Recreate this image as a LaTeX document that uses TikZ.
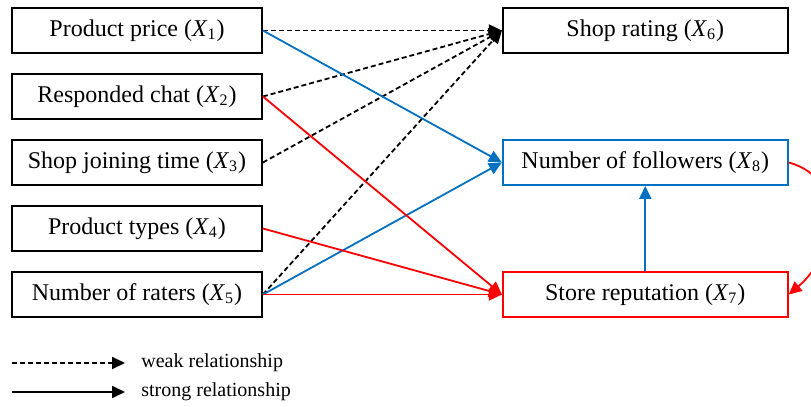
\documentclass[tikz,border=0pt]{standalone}
\usepackage{fontspec}
\setmainfont{Liberation Serif}
\usetikzlibrary{arrows.meta,
                chains,
                positioning}
\definecolor{linkblue}{RGB}{0,112,192}
\definecolor{linkred}{RGB}{255,0,0}
\newcommand{\xv}[1]{(\textit{X}\textsubscript{#1})}

\begin{document}
\begin{tikzpicture}[
            x=0.5pt, y=-0.5pt,
            node distance = 9.6pt and 119.5pt,
            start chain = A going below,
            base/.style = {draw, line width=0.9pt, minimum height=22.5pt,
                    align=center, on chain=A,
                    font=\fontsize{12}{14}\selectfont},
            factor/.style = {base, minimum width=125pt},
            target/.style = {base, minimum width=142.5pt},
            link/.style = {line width=0.9pt,
                    -{Triangle[length=6.5pt, width=6pt]}},
            weak/.style = {link, dash pattern=on 2.5pt off 1.5pt},
            legtext/.style = {anchor=west, inner sep=0pt,
                    font=\fontsize{10}{12}\selectfont}]

        \useasboundingbox (0,0) rectangle (811,407);

        \node [factor] at (137,30.5) {Product price \xv{1}}; % A-1
        \node [factor]          {Responded chat \xv{2}}; % A-2
        \node [factor]          {Shop joining time \xv{3}}; % A-3
        \node [factor]          {Product types \xv{4}}; % A-4
        \node [factor]          {Number of raters \xv{5}}; % A-5

        % Out
        \node [target,
            right =of A-1]      {Shop rating \xv{6}}; % A-6
        \node [target, draw=linkred,
            right =of A-5]      {Store reputation \xv{7}}; % A-7
        \node [target, draw=linkblue,
            right =of A-3]      {Number of followers \xv{8}}; % A-8
        %% weak
        \draw [weak] (A-1.east) -- (A-6.west);
        \draw [weak] (A-2.east) -- (A-6.west);
        \draw [weak] (A-3.east) -- (A-6.west);
        \draw [weak] (A-5.east) -- (A-6.west);
        %% strong
        \draw [link, linkblue] (A-1.east) -- (A-8.west);
        \draw [link, linkblue] (A-5.east) -- (A-8.west);
        \draw [link, linkblue] (A-7.north) -- (A-8.south);
        \draw [link, linkred] (A-2.east) -- (A-7.west);
        \draw [link, linkred] (A-4.east) -- (A-7.west);
        \draw [link, linkred] (A-5.east) -- (A-7.west);
        \draw [link, linkred] (A-8.east)
            to [out=-15, in=40, looseness=1.2] (A-7.east);

        % Legend
        \coordinate (w1) at (12,363);
        \coordinate (w2) at (125,363);
        \coordinate (s1) at (12,392);
        \coordinate (s2) at (125,392);
        \draw [weak] (w1) -- (w2);
        \draw [link] (s1) -- (s2);
        \node (wl) [legtext] at ([xshift=8pt] w2) {weak relationship};
        \node (sl) [legtext] at ([xshift=8pt] s2) {strong relationship};
    \end{tikzpicture}
\end{document}
